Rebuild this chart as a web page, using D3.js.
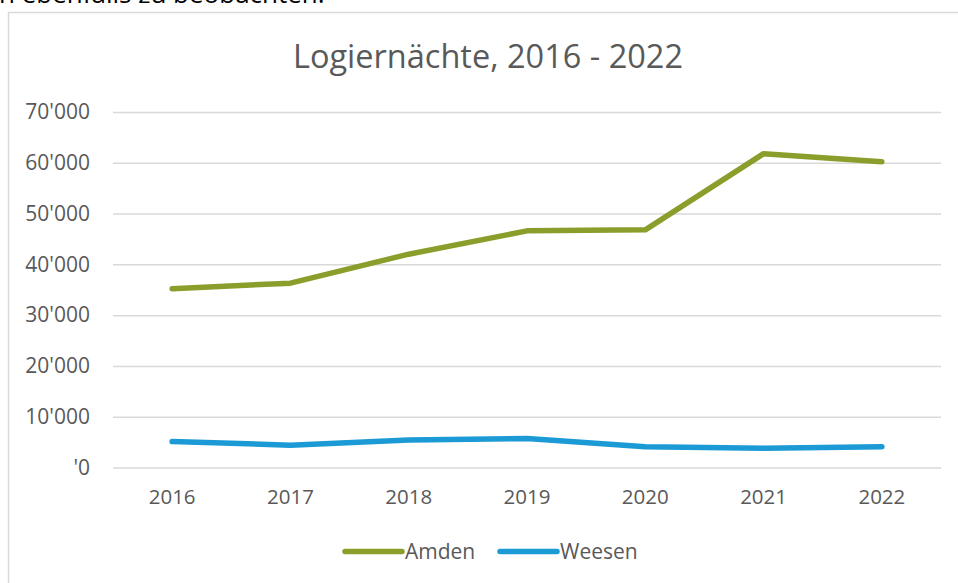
<!DOCTYPE html>
<html>
<head>
<meta charset="utf-8">
<script src="https://cdn.jsdelivr.net/npm/d3@7"></script>
<style>
  body { margin: 0; background: #fff; overflow: hidden; }
  svg { display: block; }
</style>
</head>
<body>
<script>
// data
const years = ['2016', '2017', '2018', '2019', '2020', '2021', '2022'];
const amden = [35200, 36300, 42000, 46600, 46800, 61800, 60200];
const weesen = [5100, 4400, 5400, 5700, 4100, 3800, 4100];
const yTicks = [0, 10000, 20000, 30000, 40000, 50000, 60000, 70000];
const seriesNames = ['Amden', 'Weesen'];
const seriesColors = ['#8a9e2b', '#1b9ad6'];

const WIDTH = 958;
const HEIGHT = 583;
const MARGIN = {top: 112, bottom: 115.5, left: 113, right: 17};
const FONT = 'Open Sans, sans-serif';

const svg = d3.select('body')
  .append('svg')
  .attr('width', WIDTH)
  .attr('height', HEIGHT);

// cut-off sentence from the page above the chart
svg.append('text')
  .attr('x', -1)
  .attr('y', 3)
  .style('font-family', FONT)
  .style('font-size', '26px')
  .attr('fill', '#000')
  .text('n ebenfalls zu beobachten.');

// chart frame
svg.append('rect')
  .attr('x', 8.5)
  .attr('y', 12.5)
  .attr('width', 1000)
  .attr('height', 700)
  .attr('fill', '#fff')
  .attr('stroke', '#d9d9d9')
  .attr('stroke-width', 1.5);

const xScale = d3.scaleBand()
  .domain(years)
  .range([MARGIN.left, WIDTH - MARGIN.right]);

const yScale = d3.scaleLinear()
  .domain([0, 70000])
  .range([HEIGHT - MARGIN.bottom, MARGIN.top]);

const fmt = v => v === 0 ? "'0" : d3.format(',')(v).replace(/,/g, "'");

// gridlines + y labels
const yAxis = d3.axisLeft(yScale)
  .tickValues(yTicks)
  .tickFormat(fmt)
  .tickSize(-(WIDTH - MARGIN.left - MARGIN.right))
  .tickPadding(23);

const gy = svg.append('g')
  .attr('transform', 'translate(' + MARGIN.left + ',0)')
  .call(yAxis);
gy.select('.domain').remove();
gy.selectAll('.tick line').attr('stroke', '#d9d9d9').attr('stroke-width', 1.5);
gy.selectAll('.tick text')
  .attr('fill', '#595959')
  .style('font-family', FONT)
  .style('font-size', '21px');

// x labels
const xAxis = d3.axisBottom(xScale).tickSize(0).tickPadding(22);
const gx = svg.append('g')
  .attr('transform', 'translate(0,' + (HEIGHT - MARGIN.bottom) + ')')
  .call(xAxis);
gx.select('.domain').remove();
gx.selectAll('.tick text')
  .attr('fill', '#595959')
  .style('font-family', FONT)
  .style('font-size', '20.5px');

// lines
const line = d3.line()
  .x((d, i) => xScale(years[i]) + xScale.bandwidth() / 2)
  .y(d => yScale(d));

[amden, weesen].forEach((vals, k) => {
  svg.append('path')
    .datum(vals)
    .attr('fill', 'none')
    .attr('stroke', seriesColors[k])
    .attr('stroke-width', 5.5)
    .attr('stroke-linejoin', 'round')
    .attr('stroke-linecap', 'round')
    .attr('d', line);
});

// title
svg.append('text')
  .attr('x', 488)
  .attr('y', 68)
  .attr('text-anchor', 'middle')
  .attr('fill', '#595959')
  .style('font-family', FONT)
  .style('font-size', '32.5px')
  .text('Logiernächte, 2016 - 2022');

// legend
const legendX = [345, 500];
const legend = svg.append('g');
seriesNames.forEach((name, k) => {
  legend.append('line')
    .attr('x1', legendX[k]).attr('x2', legendX[k] + 57)
    .attr('y1', 551.5).attr('y2', 551.5)
    .attr('stroke', seriesColors[k])
    .attr('stroke-width', 5.5)
    .attr('stroke-linecap', 'round');
  legend.append('text')
    .attr('x', legendX[k] + 60)
    .attr('y', 558.5)
    .attr('fill', '#595959')
    .style('font-family', FONT)
    .style('font-size', '21px')
    .text(name);
});
</script>
</body>
</html>
